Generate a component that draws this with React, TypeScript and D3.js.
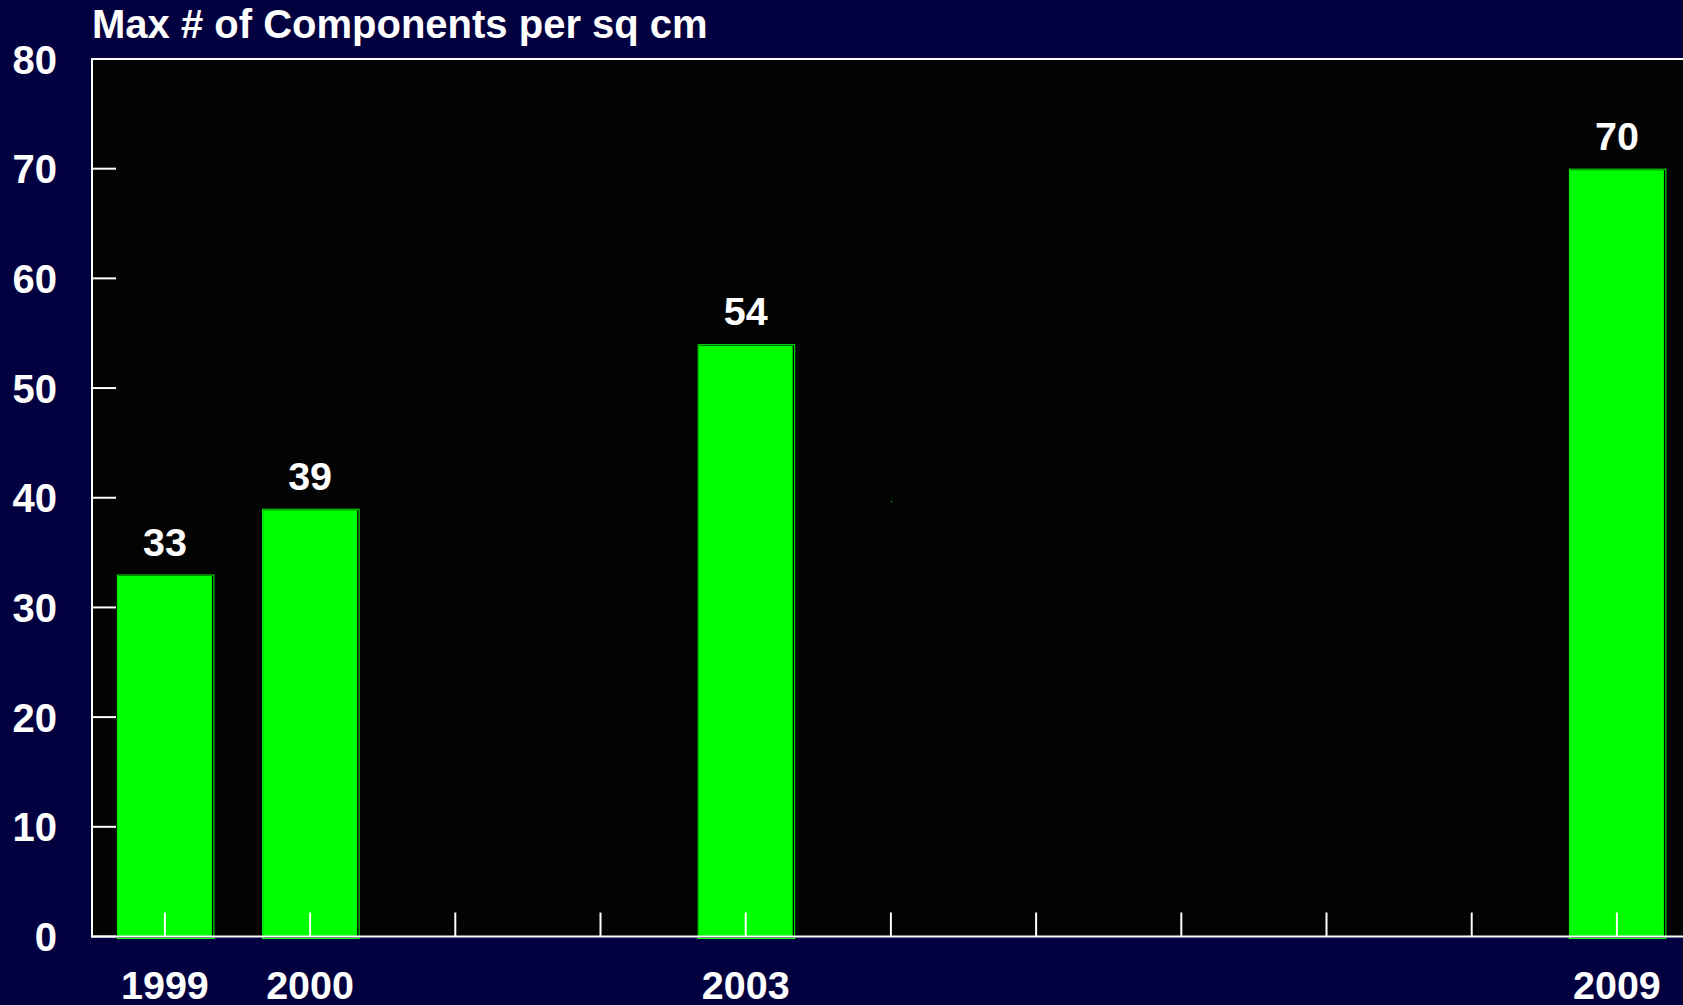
import React, { useEffect } from "react";
import * as d3 from "d3";

const title = "Max # of Components per sq cm";
const years = ["1999", "2000", "2001", "2002", "2003", "2004", "2005", "2006", "2007", "2008", "2009"];
const barYears = ["1999", "2000", "2003", "2009"];
const barValues = [33, 39, 54, 70];
const yTicks = [0, 10, 20, 30, 40, 50, 60, 70, 80];
const strayYears = ["2004"];
const strayValues = [39.7];

const W = 1683;
const H = 1005;
const FONT = "'Liberation Sans', Arial, Helvetica, sans-serif";

export default function App() {
  useEffect(() => {
    document.body.style.margin = "0";
    document.body.style.overflow = "hidden";
  }, []);

  const left = 92.3;
  const step = 145.2;
  const p = 1 - 94 / step;
  const x = d3
    .scaleBand<string>()
    .domain(years)
    .range([left, left + step * years.length])
    .paddingInner(p)
    .paddingOuter(p / 2);
  const y = d3.scaleLinear().domain([0, 80]).range([936.5, 59]);
  const bw = x.bandwidth();
  const y0 = y(0);

  return (
    <svg width={W} height={H} style={{ display: "block", background: "#02003f" }}>
      <rect x={0} y={0} width={W} height={H} fill="#02003f" />
      <rect x={91} y={y(80)} width={W - 91} height={y0 - y(80)} fill="#030303" />
      <text x={92} y={38} fill="#fff" fontFamily={FONT} fontWeight="bold" fontSize={40}>
        {title}
      </text>
      {/* y ticks (under bars) */}
      {yTicks.map((t) => (
        <line key={"yt" + t} x1={92} x2={116} y1={y(t)} y2={y(t)} stroke="#fff" strokeWidth={2} />
      ))}
      {yTicks.map((t) => (
        <text
          key={"yl" + t}
          x={57}
          y={y(t) + 14.5}
          fill="#fff"
          fontFamily={FONT}
          fontWeight="bold"
          fontSize={40}
          textAnchor="end"
        >
          {t}
        </text>
      ))}
      {/* bars */}
      {barYears.map((yr, i) => {
        const bx = x(yr)!;
        const top = y(barValues[i]);
        return (
          <g key={"b" + yr}>
            <rect x={bx} y={top + 1.5} width={bw} height={y0 - top - 1.5} fill="#00ff00" />
            <rect
              x={bx - 0.5}
              y={top + 0.5}
              width={bw + 2.5}
              height={y0 - top + 1.5}
              fill="none"
              stroke="#00ff00"
              strokeWidth={1}
            />
            <text
              x={bx + bw / 2}
              y={top - 19}
              fill="#fff"
              fontFamily={FONT}
              fontWeight="bold"
              fontSize={39.5}
              textAnchor="middle"
            >
              {barValues[i]}
            </text>
          </g>
        );
      })}
      {strayYears.map((yr, i) => (
        <rect
          key={"s" + yr}
          x={Math.round(x(yr)! + bw / 2)}
          y={Math.round(y(strayValues[i]))}
          width={1}
          height={1}
          fill="#00ff00"
        />
      ))}
      {/* x ticks */}
      {years.map((yr) => (
        <line
          key={"xt" + yr}
          x1={x(yr)! + bw / 2}
          x2={x(yr)! + bw / 2}
          y1={y0}
          y2={y0 - 24}
          stroke="#fff"
          strokeWidth={2}
        />
      ))}
      {barYears.map((yr) => (
        <text
          key={"xl" + yr}
          x={x(yr)! + bw / 2}
          y={999}
          fill="#fff"
          fontFamily={FONT}
          fontWeight="bold"
          fontSize={39.5}
          textAnchor="middle"
        >
          {yr}
        </text>
      ))}
      {/* frame */}
      <line x1={91} x2={W} y1={y(80)} y2={y(80)} stroke="#fff" strokeWidth={2} />
      <line x1={92} x2={92} y1={y(80) - 1} y2={y0 + 1} stroke="#fff" strokeWidth={2} />
      <line x1={91} x2={W} y1={y0} y2={y0} stroke="#fff" strokeWidth={2} />
    </svg>
  );
}
